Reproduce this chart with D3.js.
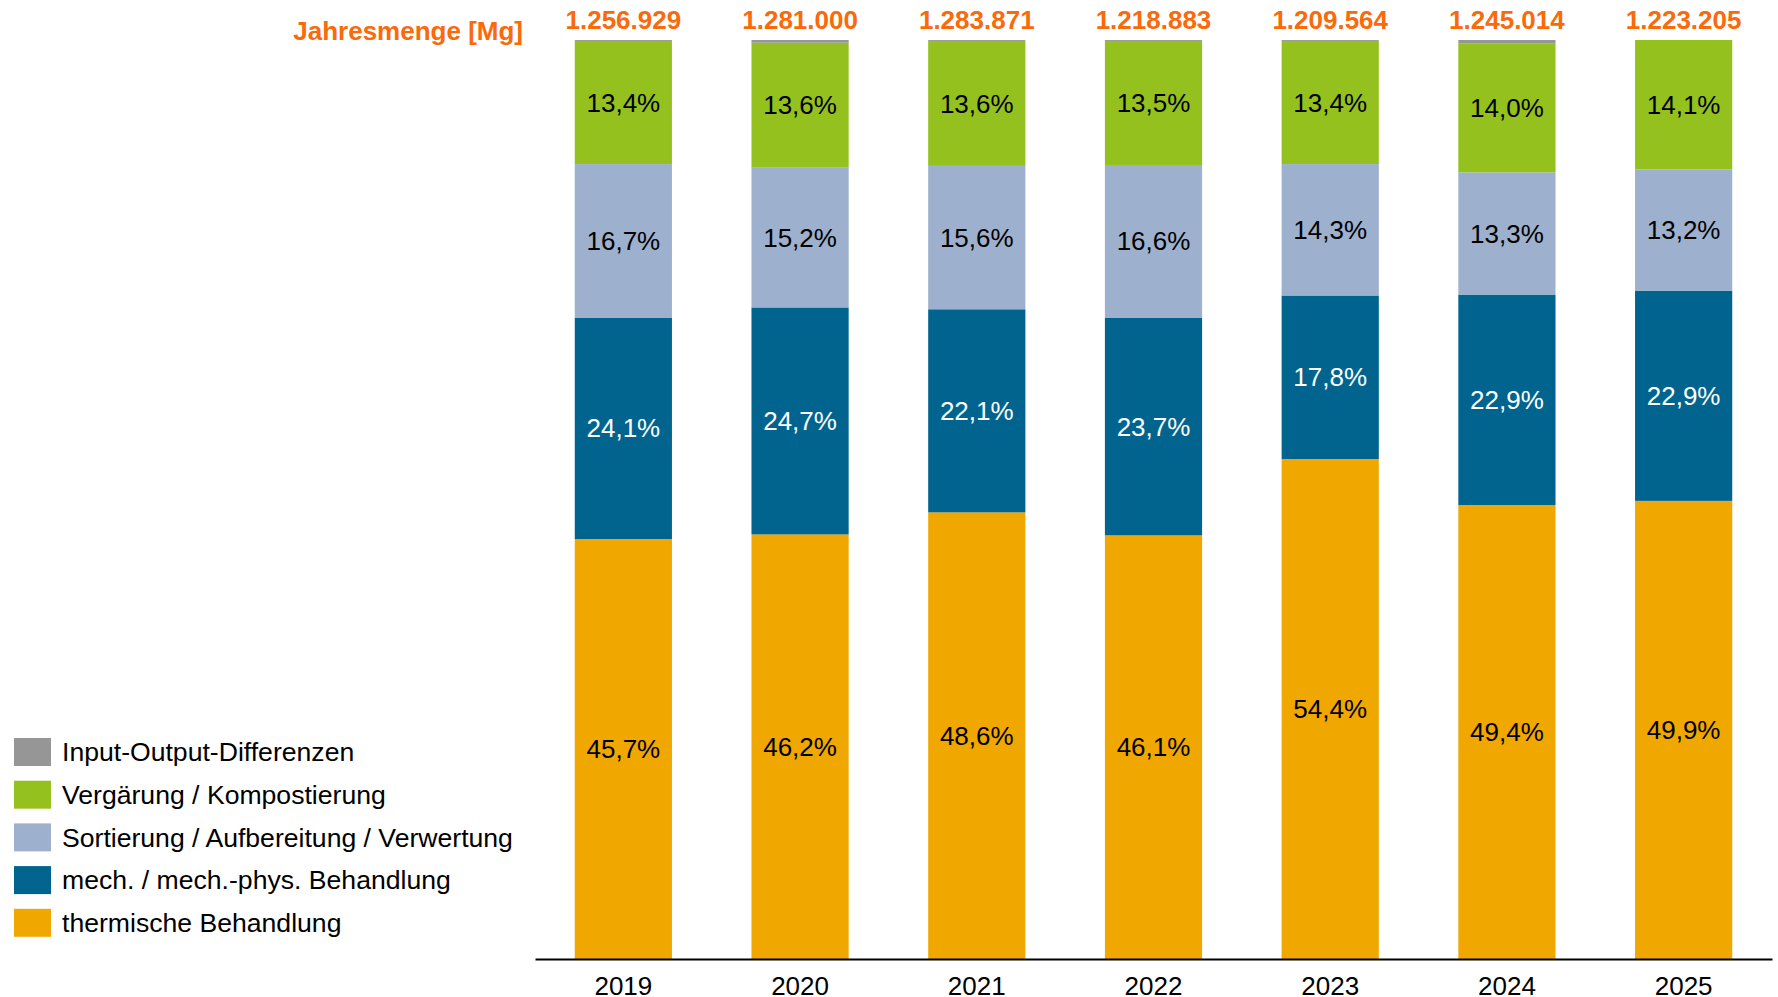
<!DOCTYPE html>
<html>
<head>
<meta charset="utf-8">
<script src="https://cdn.jsdelivr.net/npm/d3@7"></script>
<style>
  body { margin: 0; background: #fff; }
  svg { display: block; font-family: "Liberation Sans", Arial, sans-serif; }
</style>
</head>
<body>
<svg id="mainSvg" width="1778" height="997"></svg>
<script>
// categories + series (percent shares per year)
let years = ['2019', '2020', '2021', '2022', '2023', '2024', '2025']
let totals = [1256929, 1281000, 1283871, 1218883, 1209564, 1245014, 1223205]

let thermisch = [45.7, 46.2, 48.6, 46.1, 54.4, 49.4, 49.9]
let mechanisch = [24.1, 24.7, 22.1, 23.7, 17.8, 22.9, 22.9]
let sortierung = [16.7, 15.2, 15.6, 16.6, 14.3, 13.3, 13.2]
let vergaerung = [13.4, 13.6, 13.6, 13.5, 13.4, 14.0, 14.1]
let differenz = [0.1, 0.3, 0.1, 0.1, 0.1, 0.4, 0.0]

let seriesNames = [
    'thermische Behandlung',
    'mech. / mech.-phys. Behandlung',
    'Sortierung / Aufbereitung / Verwertung',
    'Vergärung / Kompostierung',
    'Input-Output-Differenzen'
]
let seriesKeys = ['thermisch', 'mechanisch', 'sortierung', 'vergaerung', 'differenz']
let colors = ['#f0a800', '#00648f', '#9db0ce', '#95c11f', '#969696']
let textColors = ['#000', '#fff', '#000', '#000', null]

let svg = d3.select('#mainSvg')
let orange = '#fa6a0a'

let de = d3.formatLocale({ decimal: ',', thousands: '.', grouping: [3], currency: ['', ' €'] })
let fmtPct = de.format('.1f')
let fmtNum = de.format(',d')

// build table for d3.stack
let table = years.map(function (y, i) {
    return {
        year: y,
        thermisch: thermisch[i],
        mechanisch: mechanisch[i],
        sortierung: sortierung[i],
        vergaerung: vergaerung[i],
        differenz: differenz[i]
    }
})

let stack = d3.stack().keys(seriesKeys).offset(d3.stackOffsetExpand)
let stacked = stack(table)

let x = d3.scaleBand()
    .domain(years)
    .range([535, 1772])
    .paddingInner(0.45)
    .paddingOuter(0.225)

let y = d3.scaleLinear()
    .domain([0, 1])
    .range([959, 40])

// bars
let layers = svg.append('g').selectAll('g')
    .data(stacked)
    .enter()
    .append('g')
    .attr('fill', function (d, i) { return colors[i] })

layers.selectAll('rect')
    .data(function (d) { return d })
    .enter()
    .append('rect')
    .attr('x', function (d) { return x(d.data.year) })
    .attr('y', function (d) { return y(d[1]) })
    .attr('width', x.bandwidth())
    .attr('height', function (d) { return Math.max(0, y(d[0]) - y(d[1])) })

// percentage labels
stacked.forEach(function (layer, i) {
    if (textColors[i] === null) return
    svg.append('g').selectAll('text')
        .data(layer)
        .enter()
        .append('text')
        .attr('x', function (d) { return x(d.data.year) + x.bandwidth() / 2 })
        .attr('y', function (d) { return (y(d[0]) + y(d[1])) / 2 })
        .attr('dy', '0.35em')
        .attr('text-anchor', 'middle')
        .attr('font-size', 26)
        .attr('fill', textColors[i])
        .text(function (d) { return fmtPct(d.data[layer.key]) + '%' })
})

// axis
let axis = svg.append('g')
    .attr('transform', 'translate(0,959)')
    .call(d3.axisBottom(x).tickSize(0).tickPadding(18))
axis.select('.domain').attr('stroke', '#000').attr('stroke-width', 2)
axis.selectAll('text')
    .attr('font-size', 26)
    .attr('font-family', '"Liberation Sans", Arial, sans-serif')
    .attr('fill', '#000')

// totals on top
svg.append('g').selectAll('text')
    .data(years)
    .enter()
    .append('text')
    .attr('x', function (d) { return x(d) + x.bandwidth() / 2 })
    .attr('y', 29)
    .attr('text-anchor', 'middle')
    .attr('font-size', 26)
    .attr('font-weight', 'bold')
    .attr('fill', orange)
    .text(function (d, i) { return fmtNum(totals[i]) })

svg.append('text')
    .attr('x', 523)
    .attr('y', 40)
    .attr('text-anchor', 'end')
    .attr('font-size', 26)
    .attr('font-weight', 'bold')
    .attr('fill', orange)
    .text('Jahresmenge [Mg]')

// legend (top entry = last series)
let legendOrder = d3.range(seriesNames.length).reverse()
let legend = svg.append('g').selectAll('g')
    .data(legendOrder)
    .enter()
    .append('g')
    .attr('transform', function (d, i) { return 'translate(14,' + (752 + i * 42.7) + ')' })

legend.append('rect')
    .attr('x', 0)
    .attr('y', -14)
    .attr('width', 37)
    .attr('height', 28)
    .attr('fill', function (d) { return colors[d] })

legend.append('text')
    .attr('x', 48)
    .attr('y', 0)
    .attr('dy', '0.35em')
    .attr('font-size', 26.6)
    .attr('fill', '#000')
    .text(function (d) { return seriesNames[d] })
</script>
</body>
</html>
